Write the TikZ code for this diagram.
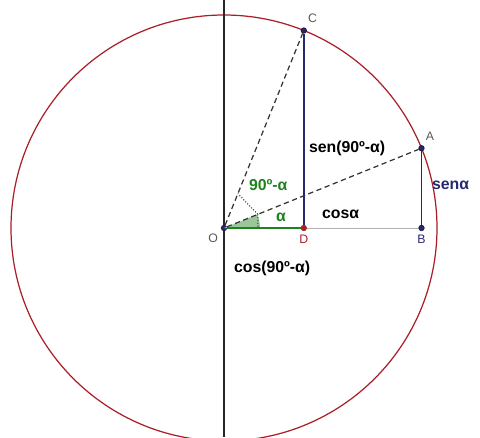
\documentclass[tikz,border=0pt]{standalone}
\usepackage{fontspec}
\setmainfont{Liberation Sans}
\usepackage{tikz}
\usetikzlibrary{positioning, calc}

\definecolor{navy}{RGB}{40,40,110}
\definecolor{ggreen}{RGB}{30,130,30}
\definecolor{ccirc}{RGB}{170,30,40}

\begin{document}
\begin{tikzpicture}[
    x=0.02cm, y=0.02cm,
    pt/.style={circle, fill=navy, draw=navy!60!black, inner sep=1.1pt},
    ptlabel/.style={font=\scriptsize, text=gray!70!black, inner sep=1pt},
    lbl/.style={font=\small\bfseries, inner sep=1pt},
    seg/.style={navy, line width=1.1pt},
    ray/.style={densely dashed, line width=0.7pt, black!80},
    angmark/.style={densely dotted, line width=0.6pt, black!80}
]
    % frame of the picture
    \useasboundingbox (-224,-209) rectangle (256,228);
    \clip (-224,-209) rectangle (256,228);

    \draw[ccirc, line width=0.7pt] (0,0) circle (213);
    \coordinate (top) at (0,228);
    \coordinate (bot) at (0,-209);
    \draw[line width=0.8pt, black!85] (top) -- (bot);

    % points
    \node[pt] (O) at (0,0) {};
    \node[pt] (A) at (22:213) {};
    \node[pt] (C) at (68:213) {};
    \node[pt] (B) at (A |- O) {};
    \node[pt, fill=ccirc, draw=ccirc] (D) at (C |- O) {};

    % angle marks
    \fill[ggreen!45] (O.center) -- (36,0) arc (0:22:36) -- cycle;
    \draw[angmark] (22:36.5) -- (68:37);
    \draw[angmark] (22:36.5) -- (34,0);

    % segments
    \draw[gray!60, line width=0.5pt] (D) -- (B);
    \draw[ggreen, line width=1.2pt] (O) -- (D);
    \draw[seg] (C) -- (D);
    \draw[seg, line width=0.9pt] (A) -- (B);
    \draw[ray] (O) -- (C);
    \draw[ray] (O) -- (A);

    % point labels
    \node[ptlabel, below left=1pt and 1pt of O] {O};
    \node[ptlabel, below=1pt of D, text=ccirc] {D};
    \node[ptlabel, below=1pt of B, text=navy] {B};
    \node[ptlabel, above right=2pt and 0pt of C] {C};
    \node[ptlabel, above right=2pt and 0pt of A] {A};

    % text labels
    \node[lbl, anchor=west] (senc) at (83,80) {sen(90º-α)};
    \node[lbl, anchor=west, text=navy] (sena) at (206,43) {senα};
    \node[lbl, anchor=west] (cosa) at (96,14) {cosα};
    \node[lbl, anchor=west] (cosc) at (8,-40) {cos(90º-α)};
    \node[lbl, anchor=west, text=ggreen] (ang) at (23,43) {90º-α};
    \node[lbl, text=ggreen] (alpha) at (57,11) {α};
\end{tikzpicture}
\end{document}
